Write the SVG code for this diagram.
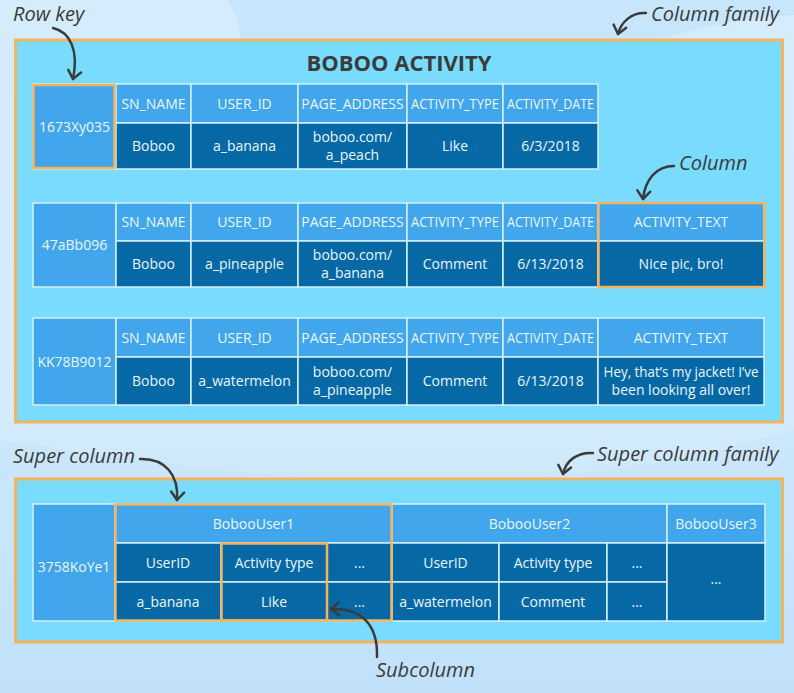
<svg xmlns="http://www.w3.org/2000/svg" width="794" height="693" viewBox="0 0 794 693">
<defs>
<linearGradient id="bg" x1="0" y1="0" x2="0" y2="1">
<stop offset="0" stop-color="#d4ecfc"/>
<stop offset="0.6" stop-color="#d3ebfc"/>
<stop offset="1" stop-color="#bcdffa"/>
</linearGradient>
<marker id="ah" viewBox="-10 -10 20 20" refX="0" refY="0" markerWidth="20" markerHeight="20" markerUnits="userSpaceOnUse" orient="auto">
<path d="M-8,-6.5 L0,0 L-8,6.5" fill="none" stroke="#3b3b3b" stroke-width="2.5" stroke-linecap="round" stroke-linejoin="round"/>
</marker>
<style>
.fam{fill:#79dcfe;stroke:#f5b35c;stroke-width:3}
.hl{fill:none;stroke:#f5b35c;stroke-width:2.5}
.h{fill:#42a6ec;stroke:#d4effd;stroke-width:1.5}
.d{fill:#0669a6;stroke:#d4effd;stroke-width:1.5}
.t{font-family:"Open Sans","Noto Sans","Liberation Sans",sans-serif;font-size:14px;fill:#eaf6ff;text-anchor:middle}
.lab{font-family:"Open Sans","Noto Sans","Liberation Sans",sans-serif;font-size:20px;font-style:italic;fill:#3b3b3b}
.title{font-family:"Open Sans","Noto Sans","Liberation Sans",sans-serif;font-size:22px;font-weight:bold;fill:#3b3b3b;text-anchor:middle}
.arr{fill:none;stroke:#3b3b3b;stroke-width:2.5;stroke-linecap:round;marker-end:url(#ah)}
</style>
</defs>

<g id="background">
<rect width="794" height="693" fill="url(#bg)"/>
<path d="M228,0 C238,18 242,34 240,45 L640,45 C700,26 750,17 794,15 L794,0 Z" fill="#c7e5fb"/>
<path d="M0,440 C200,470 500,520 794,430 L794,693 L0,693 Z" fill="#c6e4fb" opacity="0.5"/>
</g>

<g id="column-family">
<rect class="fam" x="15.5" y="40" width="767" height="382"/>
<text class="title" x="399" y="70.5">BOBOO ACTIVITY</text>
</g>

<g id="row-1673Xy035">
<rect class="h" x="33" y="84" width="83" height="85"/>
<rect class="h" x="116" y="84" width="75" height="39"/>
<rect class="h" x="191" y="84" width="107" height="39"/>
<rect class="h" x="298" y="84" width="109" height="39"/>
<rect class="h" x="407" y="84" width="96" height="39"/>
<rect class="h" x="503" y="84" width="95" height="39"/>
<rect class="d" x="116" y="123" width="75" height="46"/>
<rect class="d" x="191" y="123" width="107" height="46"/>
<rect class="d" x="298" y="123" width="109" height="46"/>
<rect class="d" x="407" y="123" width="96" height="46"/>
<rect class="d" x="503" y="123" width="95" height="46"/>
<rect class="hl" x="33.5" y="85" width="81" height="83"/>
<text class="t" x="74.5" y="131.5">1673Xy035</text>
<text class="t" x="153.5" y="108.5">SN_NAME</text>
<text class="t" x="244.5" y="108.5">USER_ID</text>
<text class="t" x="352.5" y="108.5">PAGE_ADDRESS</text>
<text class="t" x="455" y="108.5" textLength="88" lengthAdjust="spacingAndGlyphs">ACTIVITY_TYPE</text>
<text class="t" x="550.5" y="108.5" textLength="87" lengthAdjust="spacingAndGlyphs">ACTIVITY_DATE</text>
<text class="t" x="153.5" y="151">Boboo</text>
<text class="t" x="244.5" y="151">a_banana</text>
<text class="t" x="352.5" y="141.5">boboo.com/</text>
<text class="t" x="352.5" y="160">a_peach</text>
<text class="t" x="455" y="151">Like</text>
<text class="t" x="550.5" y="151">6/3/2018</text>
</g>

<g id="row-47aBb096">
<rect class="h" x="33" y="203" width="83" height="84"/>
<rect class="h" x="116" y="203" width="75" height="38"/>
<rect class="h" x="191" y="203" width="107" height="38"/>
<rect class="h" x="298" y="203" width="109" height="38"/>
<rect class="h" x="407" y="203" width="96" height="38"/>
<rect class="h" x="503" y="203" width="95" height="38"/>
<rect class="h" x="598" y="203" width="166" height="38"/>
<rect class="d" x="116" y="241" width="75" height="46"/>
<rect class="d" x="191" y="241" width="107" height="46"/>
<rect class="d" x="298" y="241" width="109" height="46"/>
<rect class="d" x="407" y="241" width="96" height="46"/>
<rect class="d" x="503" y="241" width="95" height="46"/>
<rect class="d" x="598" y="241" width="166" height="46"/>
<rect class="hl" x="598.5" y="203" width="166" height="84"/>
<text class="t" x="74.5" y="250">47aBb096</text>
<text class="t" x="153.5" y="227">SN_NAME</text>
<text class="t" x="244.5" y="227">USER_ID</text>
<text class="t" x="352.5" y="227">PAGE_ADDRESS</text>
<text class="t" x="455" y="227" textLength="88" lengthAdjust="spacingAndGlyphs">ACTIVITY_TYPE</text>
<text class="t" x="550.5" y="227" textLength="87" lengthAdjust="spacingAndGlyphs">ACTIVITY_DATE</text>
<text class="t" x="681" y="227">ACTIVITY_TEXT</text>
<text class="t" x="153.5" y="269">Boboo</text>
<text class="t" x="244.5" y="269">a_pineapple</text>
<text class="t" x="352.5" y="259.5">boboo.com/</text>
<text class="t" x="352.5" y="278">a_banana</text>
<text class="t" x="455" y="269">Comment</text>
<text class="t" x="550.5" y="269">6/13/2018</text>
<text class="t" x="681" y="269">Nice pic, bro!</text>
</g>

<g id="row-KK78B9012">
<rect class="h" x="33" y="318" width="83" height="87"/>
<rect class="h" x="116" y="318" width="75" height="39"/>
<rect class="h" x="191" y="318" width="107" height="39"/>
<rect class="h" x="298" y="318" width="109" height="39"/>
<rect class="h" x="407" y="318" width="96" height="39"/>
<rect class="h" x="503" y="318" width="95" height="39"/>
<rect class="h" x="598" y="318" width="166" height="39"/>
<rect class="d" x="116" y="357" width="75" height="48"/>
<rect class="d" x="191" y="357" width="107" height="48"/>
<rect class="d" x="298" y="357" width="109" height="48"/>
<rect class="d" x="407" y="357" width="96" height="48"/>
<rect class="d" x="503" y="357" width="95" height="48"/>
<rect class="d" x="598" y="357" width="166" height="48"/>
<text class="t" x="74.5" y="366.5">KK78B9012</text>
<text class="t" x="153.5" y="343">SN_NAME</text>
<text class="t" x="244.5" y="343">USER_ID</text>
<text class="t" x="352.5" y="343">PAGE_ADDRESS</text>
<text class="t" x="455" y="343" textLength="88" lengthAdjust="spacingAndGlyphs">ACTIVITY_TYPE</text>
<text class="t" x="550.5" y="343" textLength="87" lengthAdjust="spacingAndGlyphs">ACTIVITY_DATE</text>
<text class="t" x="681" y="343">ACTIVITY_TEXT</text>
<text class="t" x="153.5" y="386">Boboo</text>
<text class="t" x="244.5" y="386">a_watermelon</text>
<text class="t" x="352.5" y="376.5">boboo.com/</text>
<text class="t" x="352.5" y="395">a_pineapple</text>
<text class="t" x="455" y="386">Comment</text>
<text class="t" x="550.5" y="386">6/13/2018</text>
<text class="t" x="681" y="376.5" textLength="155" lengthAdjust="spacingAndGlyphs">Hey, that’s my jacket! I’ve</text>
<text class="t" x="681" y="395">been looking all over!</text>
</g>

<g id="super-column-family">
<rect class="fam" x="15.5" y="479" width="767" height="163"/>
</g>

<g id="row-3758KoYe1">
<rect class="h" x="33" y="504" width="82" height="117"/>
<rect class="h" x="115" y="504" width="277" height="39"/>
<rect class="h" x="392" y="504" width="275" height="39"/>
<rect class="h" x="667" y="504" width="98" height="39"/>
<rect class="d" x="115" y="543" width="106" height="39"/>
<rect class="d" x="221" y="543" width="106" height="39"/>
<rect class="d" x="327" y="543" width="65" height="39"/>
<rect class="d" x="115" y="582" width="106" height="39"/>
<rect class="d" x="221" y="582" width="106" height="39"/>
<rect class="d" x="327" y="582" width="65" height="39"/>
<rect class="d" x="392" y="543" width="107" height="39"/>
<rect class="d" x="499" y="543" width="108" height="39"/>
<rect class="d" x="607" y="543" width="60" height="39"/>
<rect class="d" x="392" y="582" width="107" height="39"/>
<rect class="d" x="499" y="582" width="108" height="39"/>
<rect class="d" x="607" y="582" width="60" height="39"/>
<rect class="d" x="667" y="543" width="98" height="78"/>
<rect class="hl" x="115.5" y="504.5" width="276" height="116"/>
<rect class="hl" x="221.5" y="543.5" width="105.5" height="77"/>
<text class="t" x="74" y="572">3758KoYe1</text>
<text class="t" x="253.5" y="529">BobooUser1</text>
<text class="t" x="529.5" y="529">BobooUser2</text>
<text class="t" x="716" y="529">BobooUser3</text>
<text class="t" x="168" y="568">UserID</text>
<text class="t" x="274" y="568">Activity type</text>
<text class="t" x="359.5" y="568">...</text>
<text class="t" x="168" y="607">a_banana</text>
<text class="t" x="274" y="607">Like</text>
<text class="t" x="359.5" y="607">...</text>
<text class="t" x="445.5" y="568">UserID</text>
<text class="t" x="553" y="568">Activity type</text>
<text class="t" x="637" y="568">...</text>
<text class="t" x="445.5" y="607">a_watermelon</text>
<text class="t" x="553" y="607">Comment</text>
<text class="t" x="637" y="607">...</text>
<text class="t" x="716" y="584">...</text>
</g>

<g id="labels">
<text id="label-row-key" class="lab" x="13" y="21">Row key</text>
<text id="label-column-family" class="lab" x="651" y="21">Column family</text>
<text id="label-column" class="lab" x="679" y="170">Column</text>
<text id="label-super-column" class="lab" x="13" y="463">Super column</text>
<text id="label-super-column-family" class="lab" x="597" y="461">Super column family</text>
<text id="label-subcolumn" class="lab" x="376" y="677">Subcolumn</text>
</g>

<g id="connectors">
<path class="arr" d="M53,28 C70,32 79,50 73,79"/>
<path class="arr" d="M646,13 C632,12 621,22 618,34"/>
<path class="arr" d="M674,166 C656,166 645,180 643,199"/>
<path class="arr" d="M140,459 C165,458 179,475 177,500"/>
<path class="arr" d="M593,453 C578,452 566,460 563,474"/>
<path class="arr" d="M377,657 C378,625 362,608 331,609"/>
</g>
</svg>
